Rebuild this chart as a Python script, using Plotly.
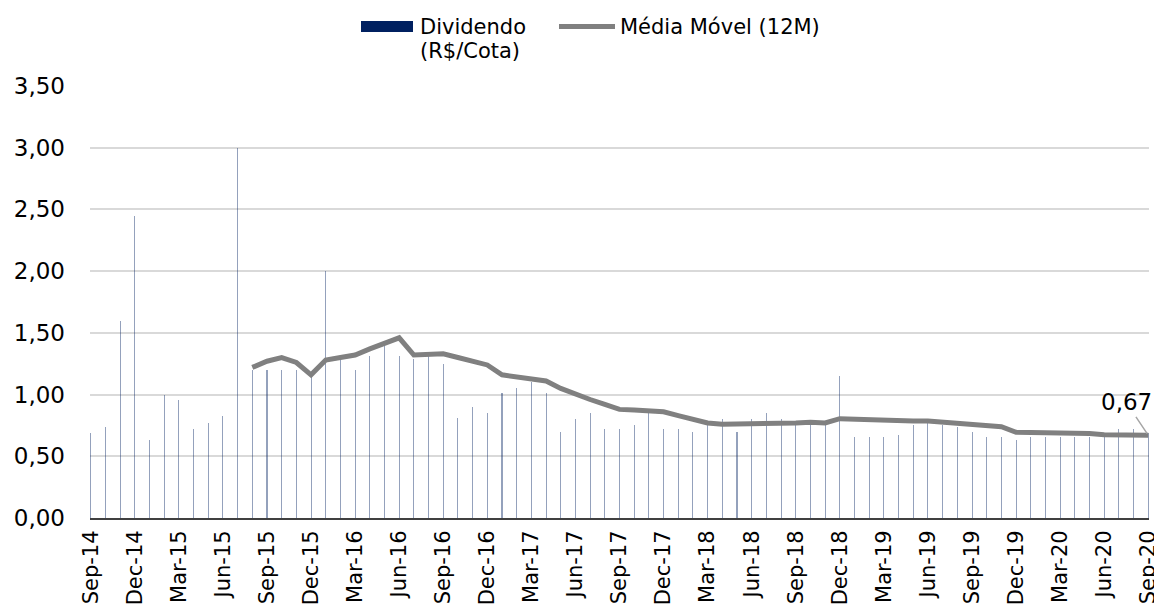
import plotly.graph_objects as go
import pandas as pd

# ---- data ----
months = [d.strftime("%b-%y") for d in pd.date_range("2014-09-01", "2020-09-01", freq="MS")]

dividendo = [
    0.69, 0.74, 1.60, 2.45, 0.63, 1.00, 0.96, 0.72, 0.77, 0.83, 3.00, 1.20,
    1.20, 1.20, 1.20, 1.16, 2.00, 1.28, 1.20, 1.31, 1.40, 1.31, 1.29, 1.31,
    1.25, 0.81, 0.90, 0.85, 1.01, 1.05, 1.10, 1.01, 0.70, 0.80, 0.85, 0.72,
    0.72, 0.75, 0.85, 0.72, 0.72, 0.70, 0.75, 0.80, 0.70, 0.80, 0.85, 0.80,
    0.78, 0.78, 0.77, 1.15, 0.66, 0.66, 0.66, 0.67, 0.75, 0.77, 0.75, 0.74,
    0.70, 0.66, 0.66, 0.63, 0.66, 0.66, 0.66, 0.66, 0.66, 0.66, 0.72, 0.72,
    0.69,
]

media_movel = [None] * 11 + [
    1.22, 1.27, 1.30, 1.26, 1.16, 1.28, 1.30, 1.32, 1.37, 1.42, 1.46, 1.32,
    1.33, 1.33, 1.30, 1.27, 1.24, 1.16, 1.14, 1.13, 1.11, 1.05, 1.00, 0.96,
    0.92, 0.88, 0.875, 0.87, 0.86, 0.83, 0.80, 0.77, 0.76, 0.76, 0.76, 0.76,
    0.765, 0.77, 0.775, 0.77, 0.805, 0.80, 0.795, 0.79, 0.78, 0.785, 0.785, 0.775,
    0.77, 0.76, 0.75, 0.74, 0.695, 0.695, 0.695, 0.695, 0.69, 0.685, 0.675, 0.67,
    0.675, 0.67,
]

tick_labels = months[::3]
y_ticks = [0, 0.5, 1.0, 1.5, 2.0, 2.5, 3.0, 3.5]

# ---- layout geometry (pixels); page body has an 8px default margin ----
OFF = 8
W, H = 1162 - OFF, 608 - OFF
ML, MR, MT, MB = 90 - OFF, 13, 86 - OFF, 90
PW, PH = W - ML - MR, H - MT - MB
PLOT_LEFT, PLOT_BOTTOM = 90, 518  # in page pixels


def px(x):
    return (x - PLOT_LEFT) / PW


def py(y):
    return (PLOT_BOTTOM - y) / PH


FONT = "DejaVu Sans"
NAVY = "#002060"
GREY = "#808080"

fig = go.Figure()

fig.add_trace(go.Bar(
    x=months, y=dividendo, name="Dividendo (R$/Cota)",
    width=0.07,
    marker=dict(color="rgba(0,32,96,0.42)", line=dict(width=0)),
    showlegend=False,
))

fig.add_trace(go.Scatter(
    x=months, y=media_movel, name="Média Móvel (12M)",
    mode="lines", line=dict(color=GREY, width=5),
    showlegend=False,
))

last_val = media_movel[-1]
fig.add_annotation(
    x=months[-1], y=last_val, xref="x", yref="y",
    text=f"{last_val:.2f}".replace(".", ","),
    showarrow=True, arrowhead=0, arrowcolor="#a6a6a6", arrowwidth=1.5,
    ax=-22, ay=-33, standoff=2,
    font=dict(family=FONT, size=23, color="#000000"),
)

# manual legend
fig.add_shape(type="rect", xref="paper", yref="paper",
              x0=px(361), x1=px(413), y0=py(32), y1=py(21),
              fillcolor=NAVY, line=dict(width=0))
fig.add_shape(type="line", xref="paper", yref="paper",
              x0=px(559), x1=px(615), y0=py(26.5), y1=py(26.5),
              line=dict(color=GREY, width=5))
for txt, x0, y0 in [("Dividendo", 418, 26.5), ("(R$/Cota)", 418, 51), ("Média Móvel (12M)", 618, 26.5)]:
    fig.add_annotation(text=txt, xref="paper", yref="paper", x=px(x0), y=py(y0),
                       xanchor="left", yanchor="middle", showarrow=False,
                       font=dict(family=FONT, size=21, color="#000000"))

fig.update_layout(
    width=W, height=H,
    margin=dict(l=ML, r=MR, t=MT, b=MB, pad=0, autoexpand=False),
    plot_bgcolor="white", paper_bgcolor="white",
    separators=",.",
    font=dict(family=FONT, size=23, color="#000000"),
    bargap=0,
)

fig.update_xaxes(
    type="category", categoryorder="array", categoryarray=months,
    range=[-0.05, len(months) - 1 + 0.05],
    tickmode="array", tickvals=tick_labels, ticktext=tick_labels,
    tickangle=-90, ticks="", ticklabelstandoff=2, automargin=False,
    showgrid=False, showline=True, linecolor="#404040", linewidth=2,
    tickfont=dict(family=FONT, size=21, color="#000000"),
)

fig.update_yaxes(
    range=[0, 3.5], tickmode="array", tickvals=y_ticks,
    tickformat=".2f", showgrid=True, gridcolor="#d9d9d9", gridwidth=1.5,
    zeroline=False, ticks="", ticklabelstandoff=24, automargin=False,
    tickfont=dict(family=FONT, size=23, color="#000000"),
)

fig.write_html("out.html")
